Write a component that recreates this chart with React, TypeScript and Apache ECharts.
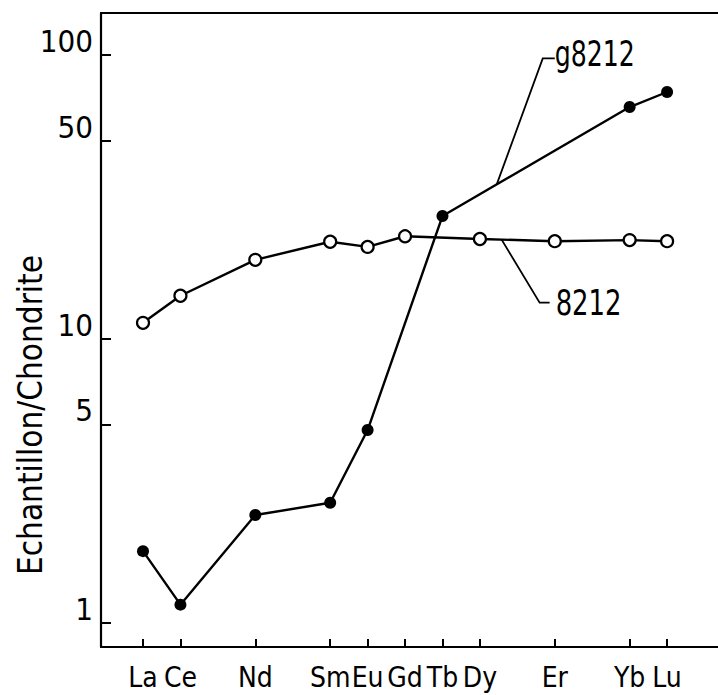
import React, { useEffect, useRef } from 'react';
import * as echarts from 'echarts';

// Rare-earth elements in atomic order (x positions)
const ELEMENTS = ['La', 'Ce', 'Pr', 'Nd', 'Pm', 'Sm', 'Eu', 'Gd', 'Tb', 'Dy', 'Ho', 'Er', 'Tm', 'Yb', 'Lu'];
const LABELED = ['La', 'Ce', 'Nd', 'Sm', 'Eu', 'Gd', 'Tb', 'Dy', 'Er', 'Yb', 'Lu'];
const Y_TICKS = [1, 5, 10, 50, 100];

// Sample 8212 (open circles)
const S8212_EL = ['La', 'Ce', 'Nd', 'Sm', 'Eu', 'Gd', 'Dy', 'Er', 'Yb', 'Lu'];
const S8212_VAL = [11.4, 14.2, 19.0, 22.0, 21.1, 23.0, 22.5, 22.1, 22.3, 22.1];

// Sample g8212 (filled dots)
const G8212_EL = ['La', 'Ce', 'Nd', 'Sm', 'Eu', 'Tb', 'Yb', 'Lu'];
const G8212_VAL = [1.79, 1.16, 2.4, 2.65, 4.78, 27.1, 65.6, 74.1];

const Y_MIN = 0.823;
const Y_MAX = 140.6;
const X_MIN = -1.122;
const X_MAX = 15.36;

const COND = '"DejaVu Sans Condensed", "Liberation Sans Narrow", sans-serif';

const idx = (e: string) => ELEMENTS.indexOf(e);
const lg = (v: number) => Math.log10(v);

export default function App() {
  const ref = useRef<HTMLDivElement>(null);

  useEffect(() => {
    if (!ref.current) return;
    const chart = echarts.init(ref.current, undefined, { renderer: 'svg' });

    const data8212 = S8212_EL.map((e, i) => [idx(e), lg(S8212_VAL[i])]);
    const dataG = G8212_EL.map((e, i) => [idx(e), lg(G8212_VAL[i])]);

    const option: any = {
      animation: false,
      backgroundColor: '#fff',
      grid: { left: 101, right: 0, top: 13, bottom: 48, containLabel: false, outerBoundsMode: 'none' },
      xAxis: [
        {
          type: 'value',
          min: X_MIN,
          max: X_MAX,
          axisLine: { show: true, onZero: false, lineStyle: { color: '#000', width: 2.2 } },
          axisTick: {
            show: true,
            inside: true,
            length: 8,
            customValues: LABELED.map(idx),
            lineStyle: { color: '#000', width: 2 },
          },
          axisLabel: {
            show: true,
            customValues: LABELED.map(idx),
            formatter: (v: number) => ELEMENTS[Math.round(v)],
            fontFamily: COND,
            fontSize: 28,
            color: '#000',
            margin: 16,
          },
          splitLine: { show: false },
        },
        {
          type: 'value',
          position: 'top',
          min: X_MIN,
          max: X_MAX,
          axisLine: { show: true, onZero: false, lineStyle: { color: '#000', width: 2.2 } },
          axisTick: { show: false },
          axisLabel: { show: false },
          splitLine: { show: false },
        },
      ],
      yAxis: {
        type: 'value',
        min: lg(Y_MIN),
        max: lg(Y_MAX),
        axisLine: { show: true, onZero: false, lineStyle: { color: '#000', width: 2.2 } },
        axisTick: {
          show: true,
          inside: true,
          length: 10,
          customValues: Y_TICKS.map(lg),
          lineStyle: { color: '#000', width: 2 },
        },
        axisLabel: {
          show: true,
          customValues: Y_TICKS.map(lg),
          formatter: (v: number) => String(Math.round(Math.pow(10, v))),
          fontFamily: COND,
          fontSize: 31,
          color: '#000',
          margin: 8,
          verticalAlign: 'bottom',
          lineHeight: 28,
        },
        splitLine: { show: false },
      },
      series: [
        {
          name: 'g8212',
          type: 'line',
          data: dataG,
          symbol: 'circle',
          symbolSize: 12,
          itemStyle: { color: '#000' },
          lineStyle: { color: '#000', width: 2.4 },
          z: 2,
        },
        {
          name: '8212',
          type: 'line',
          data: data8212,
          symbol: 'circle',
          symbolSize: 12,
          itemStyle: { color: '#fff', borderColor: '#000', borderWidth: 2.2 },
          lineStyle: { color: '#000', width: 2.4 },
          z: 3,
        },
      ],
    };
    chart.setOption(option);

    const px = (x: number, y: number) =>
      chart.convertToPixel({ gridIndex: 0 }, [x, y]) as number[];

    // leader for g8212: anchor on the Tb-Yb segment
    const pTb = px(idx('Tb'), lg(G8212_VAL[G8212_EL.indexOf('Tb')]));
    const pYb = px(idx('Yb'), lg(G8212_VAL[G8212_EL.indexOf('Yb')]));
    const tg = 0.29;
    const aG = [pTb[0] + tg * (pYb[0] - pTb[0]), pTb[1] + tg * (pYb[1] - pTb[1])];
    const eG = [aG[0] + 46, aG[1] - 126];

    // leader for 8212: anchor on the Dy-Er segment
    const pDy = px(idx('Dy'), lg(S8212_VAL[S8212_EL.indexOf('Dy')]));
    const pEr = px(idx('Er'), lg(S8212_VAL[S8212_EL.indexOf('Er')]));
    const ts = 0.29;
    const aS = [pDy[0] + ts * (pEr[0] - pDy[0]), pDy[1] + ts * (pEr[1] - pDy[1])];
    const eS = [aS[0] + 38, aS[1] + 63];

    chart.setOption({
      graphic: [
        {
          type: 'polyline',
          shape: { points: [aG, eG, [eG[0] + 12, eG[1]]] },
          style: { stroke: '#000', lineWidth: 1.8, fill: null },
          z: 10,
        },
        {
          type: 'text',
          x: eG[0] + 12,
          y: eG[1] - 5,
          scaleX: 0.8,
          style: {
            text: 'g8212',
            fontFamily: COND,
            fontSize: 35,
            fill: '#000',
            align: 'left',
            verticalAlign: 'middle',
          },
          z: 10,
        },
        {
          type: 'polyline',
          shape: { points: [aS, eS, [eS[0] + 10, eS[1]]] },
          style: { stroke: '#000', lineWidth: 1.8, fill: null },
          z: 10,
        },
        {
          type: 'text',
          x: eS[0] + 16,
          y: eS[1],
          scaleX: 0.8,
          style: {
            text: '8212',
            fontFamily: COND,
            fontSize: 36,
            fill: '#000',
            align: 'left',
            verticalAlign: 'middle',
          },
          z: 10,
        },
        {
          type: 'text',
          x: 30,
          y: 415,
          rotation: Math.PI / 2,
          style: {
            text: 'Echantillon/Chondrite',
            fontFamily: COND,
            fontSize: 33,
            fill: '#000',
            align: 'center',
            verticalAlign: 'middle',
          },
          z: 10,
        },
      ],
    });

    return () => chart.dispose();
  }, []);

  return (
    <div
      ref={ref}
      style={{ position: 'fixed', left: 0, top: 0, width: 718, height: 695, background: '#fff' }}
    />
  );
}
